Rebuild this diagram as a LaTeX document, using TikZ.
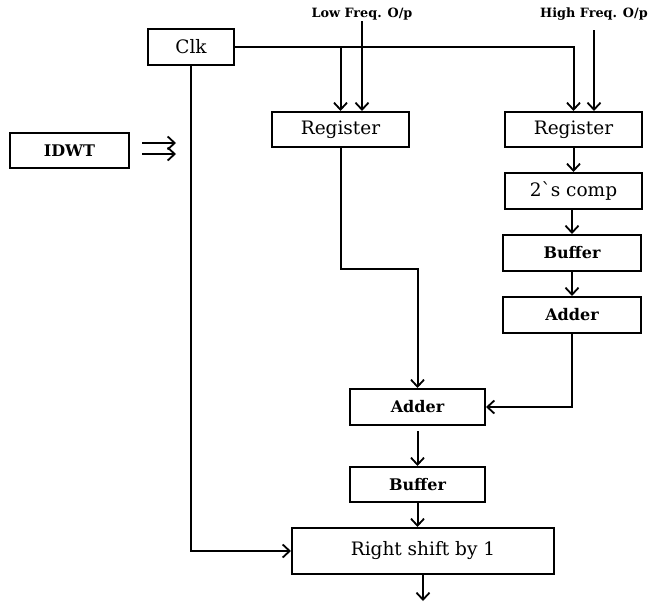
\documentclass[tikz,border=0pt]{standalone}
\usepackage{fontspec}
\setmainfont{DejaVu Serif}
\usetikzlibrary{arrows.meta,calc}
\begin{document}
\begin{tikzpicture}[x=1pt,y=-1pt,
  box/.style={draw,line width=2pt,minimum width=#1,inner sep=0pt},
  reg/.style={font=\fontsize{18.5}{20}\selectfont},
  sm/.style={font=\bfseries\fontsize{16}{18}\selectfont},
  lab/.style={font=\bfseries\fontsize{12.8}{14}\selectfont,inner sep=1pt},
  arr/.style={line width=2pt,-{Straight Barb[length=7pt,width=13pt,line width=1.8pt]}},
  ln/.style={line width=2pt}]
\useasboundingbox (0,0) rectangle (656,603);
\node[box=86pt,minimum height=36pt,reg] (clk) at (191,47) {Clk};
\node[box=119pt,minimum height=35pt,sm] (idwt) at (69.5,150.5) {IDWT};
\node[box=137pt,minimum height=35pt,reg] (reg1) at (340.5,129.5) {Register};
\node[box=137pt,minimum height=35pt,reg] (reg2) at (573.5,129.5) {Register};
\node[box=137pt,minimum height=36pt,reg] (comp) at (573.5,191) {2\textasciigrave s comp};
\node[box=138pt,minimum height=36pt,sm] (buf1) at (572,253) {Buffer};
\node[box=138pt,minimum height=36pt,sm] (add1) at (572,315) {Adder};
\node[box=135pt,minimum height=36pt,sm] (add2) at (417.5,407) {Adder};
\node[box=135pt,minimum height=35pt,sm] (buf2) at (417.5,484.5) {Buffer};
\node[box=262pt,minimum height=46pt,reg] (shift) at (423,551) {Right shift by 1};
\node[lab] (low) at (362,14) {Low Freq. O/p};
\node[lab] (high) at (594,14) {High Freq. O/p};
\coordinate (lk) at (417.5,269);
\coordinate (hin) at (594,30);
\coordinate (out) at (423,601);
% clock
\draw[arr] (clk.east) -| (reg2.north);
\draw[arr] (reg1.north |- clk.east) -- (reg1.north);
\draw[arr] (clk.south) |- (shift.west);
% data inputs
\draw[arr] (low.south) -- (low.south |- reg1.north);
\draw[arr] (hin) -- (hin |- reg2.north);
% IDWT double arrow
\draw[arr] ([xshift=12pt,yshift=7.5pt]idwt.east) -- ++(34,0);
\draw[arr] ([xshift=12pt,yshift=-3.5pt]idwt.east) -- ++(34,0);
% right column
\draw[arr] (reg2.south) -- (comp.north);
\draw[arr] (comp.south -| buf1.north) -- (buf1.north);
\draw[arr] (buf1.south) -- (add1.north);
\draw[arr] (add1.south) |- (add2.east);
% left path
\draw[arr] (reg1.south) |- (lk) -- (add2.north);
\draw[arr] ([yshift=-5pt]add2.south) -- (buf2.north);
\draw[arr] (buf2.south) -- (buf2.south |- shift.north);
\draw[arr] (shift.south) -- (out);
\end{tikzpicture}
\end{document}
